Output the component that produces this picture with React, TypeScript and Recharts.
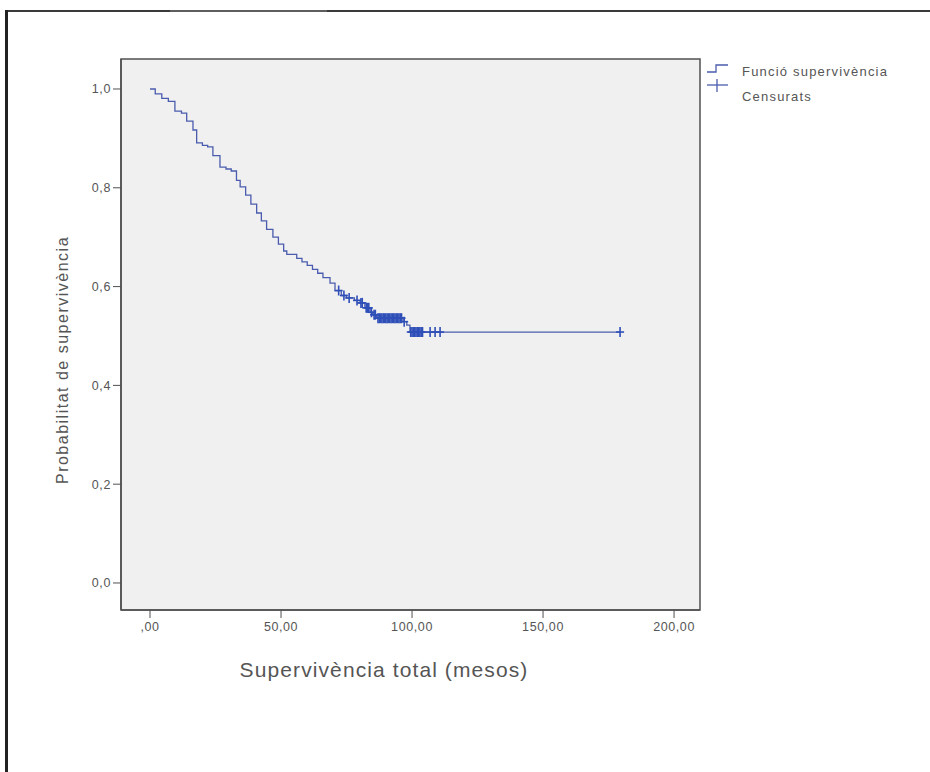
import React from "react";
import {
  ComposedChart,
  Line,
  Scatter,
  XAxis,
  YAxis,
  CartesianGrid,
  ReferenceArea,
} from "recharts";

// Kaplan-Meier step points (time in months, survival probability)
const stepTimes = [
  0, 2, 4.5, 7, 9.5, 12, 14, 16.4, 17.8, 20, 22, 24, 26.7, 29, 31, 33, 34.4,
  36.5, 38.5, 40.7, 42.5, 44.5, 46.9, 49, 51, 52.2, 56, 58, 60, 62, 64, 66,
  68.7, 70.6, 73, 75, 78, 80.2, 82, 84, 85, 86.5, 96.6, 98, 99.2, 179.4,
];
const stepSurvival = [
  1.0, 0.99, 0.981, 0.975, 0.955, 0.951, 0.935, 0.917, 0.891, 0.886, 0.883,
  0.865, 0.842, 0.838, 0.834, 0.815, 0.802, 0.785, 0.767, 0.749, 0.733, 0.716,
  0.7, 0.686, 0.672, 0.665, 0.657, 0.65, 0.643, 0.635, 0.627, 0.618, 0.607,
  0.592, 0.582, 0.577, 0.572, 0.567, 0.557, 0.548, 0.543, 0.536, 0.529, 0.522,
  0.508, 0.508,
];

// Censored observation times
const censoredTimes = [
  72, 74, 76, 79, 80.5, 81, 82.5, 83, 83.5, 84.5, 85.5, 86, 87, 87.5, 88, 88.5,
  89, 89.5, 90, 90.5, 91, 91.5, 92, 92.5, 93, 93.5, 94, 94.5, 95, 95.5, 96, 97,
  99.5, 100, 100.5, 101, 101.5, 102, 102.5, 103, 103.5, 104, 106.9, 108.8,
  110.7, 179.4,
];

const xTicks = [0, 50, 100, 150, 200];
const xTickLabels = [",00", "50,00", "100,00", "150,00", "200,00"];
const yTicks = [0, 0.2, 0.4, 0.6, 0.8, 1.0];
const yTickLabels = ["0,0", "0,2", "0,4", "0,6", "0,8", "1,0"];

const curveData = stepTimes.map((t, i) => ({ t, s: stepSurvival[i] }));

const survivalAt = (t: number) => {
  let s = stepSurvival[0];
  for (let i = 0; i < stepTimes.length; i++) {
    if (stepTimes[i] <= t) s = stepSurvival[i];
  }
  return s;
};
const censoredData = censoredTimes.map((t) => ({ t, s: survivalAt(t) }));

const FONT = "'Liberation Sans', Arial, sans-serif";
const LINE_COLOR = "#4b5cae";
const CENSOR_COLOR = "#2f4fb8";
const TEXT_COLOR = "#555555";

const PlusMark = (props: any) => {
  const { cx, cy } = props;
  if (cx == null || cy == null) return null;
  return (
    <g stroke={CENSOR_COLOR} strokeWidth={1.6}>
      <line x1={cx} y1={cy - 5} x2={cx} y2={cy + 5} />
      <line x1={cx - 4} y1={cy} x2={cx + 4} y2={cy} />
    </g>
  );
};

export default function App() {
  return (
    <div
      style={{
        position: "absolute",
        left: 0,
        top: 0,
        width: 930,
        height: 772,
        background: "#ffffff",
        overflow: "hidden",
        fontFamily: FONT,
      }}
    >
      {/* frame lines of the original output window */}
      <div style={{ position: "absolute", left: 5, top: 10, width: 925, height: 2, background: "#3a3a3a" }} />
      <div style={{ position: "absolute", left: 170, top: 10, width: 157, height: 2, background: "#5e5e5e" }} />
      <div style={{ position: "absolute", left: 5, top: 10, width: 3, height: 762, background: "#222222" }} />

      <div style={{ position: "absolute", left: 0, top: 0 }}>
        <ComposedChart
          width={930}
          height={772}
          margin={{ top: 59, right: 230, bottom: 132, left: 61 }}
          style={{ fontFamily: FONT }}
        >
          <CartesianGrid horizontal={false} vertical={false} fill="#f0f0f0" />
          <XAxis
            type="number"
            dataKey="t"
            domain={[-11.07, 209.9]}
            allowDataOverflow
            ticks={xTicks}
            tickFormatter={(v: number) => xTickLabels[xTicks.indexOf(v)] ?? String(v)}
            height={30}
            tickSize={8}
            tickMargin={4}
            axisLine={{ stroke: "#505050", strokeWidth: 1.5 }}
            tickLine={{ stroke: "#505050" }}
            tick={{ fill: TEXT_COLOR, fontSize: 12.5, fontFamily: FONT, letterSpacing: 0.6 }}
          />
          <YAxis
            type="number"
            dataKey="s"
            domain={[-0.0547, 1.0607]}
            allowDataOverflow
            ticks={yTicks}
            tickFormatter={(v: number) => yTickLabels[yTicks.indexOf(v)] ?? String(v)}
            width={60}
            tickSize={8}
            axisLine={{ stroke: "#505050", strokeWidth: 1.5 }}
            tickLine={{ stroke: "#505050" }}
            tick={{ fill: TEXT_COLOR, fontSize: 12.5, fontFamily: FONT, letterSpacing: 0.6 }}
          />
          <ReferenceArea
            x1={-11.07}
            x2={209.9}
            y1={-0.0547}
            y2={1.0607}
            fill="none"
            stroke="#505050"
            strokeWidth={1.5}
            ifOverflow="visible"
          />
          <Line
            data={curveData}
            dataKey="s"
            type="stepAfter"
            stroke={LINE_COLOR}
            strokeWidth={1.3}
            dot={false}
            activeDot={false}
            isAnimationActive={false}
          />
          <Scatter
            data={censoredData}
            dataKey="s"
            shape={<PlusMark />}
            isAnimationActive={false}
          />
        </ComposedChart>
      </div>

      {/* Axis titles */}
      <div
        style={{
          position: "absolute",
          left: 384,
          top: 670,
          transform: "translate(-50%, -50%)",
          fontSize: 21,
          letterSpacing: 1.1,
          color: TEXT_COLOR,
          whiteSpace: "nowrap",
        }}
      >
        Supervivència total (mesos)
      </div>
      <div
        style={{
          position: "absolute",
          left: 63,
          top: 360,
          transform: "translate(-50%, -50%) rotate(-90deg)",
          fontSize: 16,
          letterSpacing: 1.5,
          color: TEXT_COLOR,
          whiteSpace: "nowrap",
        }}
      >
        Probabilitat de supervivència
      </div>

      {/* Legend */}
      <svg style={{ position: "absolute", left: 700, top: 55 }} width={36} height={45}>
        <path d="M7 17 H16 V10 H28" fill="none" stroke={LINE_COLOR} strokeWidth={1.3} />
        <line x1={7} y1={30} x2={28} y2={30} stroke={LINE_COLOR} strokeWidth={1.3} />
        <line x1={17} y1={24} x2={17} y2={37} stroke={LINE_COLOR} strokeWidth={1.3} />
      </svg>
      <div
        style={{
          position: "absolute",
          left: 742,
          top: 71,
          transform: "translateY(-50%)",
          fontSize: 13,
          letterSpacing: 1.2,
          color: TEXT_COLOR,
          whiteSpace: "nowrap",
        }}
      >
        Funció supervivència
      </div>
      <div
        style={{
          position: "absolute",
          left: 742,
          top: 96,
          transform: "translateY(-50%)",
          fontSize: 13,
          letterSpacing: 1.2,
          color: TEXT_COLOR,
          whiteSpace: "nowrap",
        }}
      >
        Censurats
      </div>
    </div>
  );
}
